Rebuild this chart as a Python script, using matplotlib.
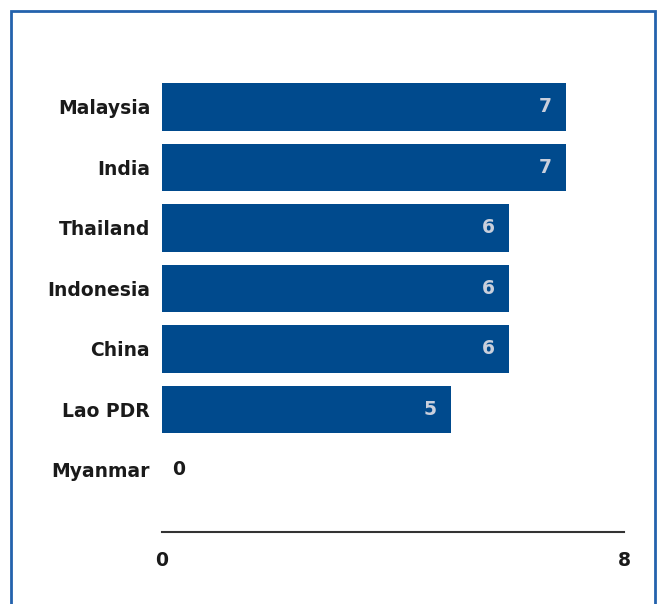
import matplotlib
matplotlib.use("Agg")
import matplotlib.pyplot as plt
from matplotlib.patches import Rectangle

countries = ["Malaysia", "India", "Thailand", "Indonesia", "China", "Lao PDR", "Myanmar"]
values = [7, 7, 6, 6, 6, 5, 0]
x_ticks = [0, 8]

BAR = "#004a8d"
FRAME = "#2462ad"

fig = plt.figure(figsize=(6.6, 6.04), dpi=100)
fig.patches.append(Rectangle((11 / 660, -0.1), 644 / 660, 1.1 - 11 / 604,
                             transform=fig.transFigure, fill=False,
                             edgecolor=FRAME, linewidth=2))

ax = fig.add_axes([162 / 660, 1 - 532 / 604, 462 / 660, 485.5 / 604])
ypos = list(range(len(countries)))
ax.barh(ypos, values, height=0.79, color=BAR)
ax.set_xlim(0, 8)
ax.set_ylim(7.025, -1)

for y, v in zip(ypos, values):
    if v > 0:
        ax.annotate(str(v), (v, y), xytext=(-14, 0), textcoords="offset pixels",
                    ha="right", va="center", fontsize=13.5, fontweight="bold",
                    color="#c9cfdc")
    else:
        ax.annotate(str(v), (0, y), xytext=(10, 0), textcoords="offset pixels",
                    ha="left", va="center", fontsize=13.5, fontweight="bold",
                    color="#1a1a1a")

ax.set_yticks(ypos)
ax.set_yticklabels(countries, fontsize=13.5, fontweight="bold", color="#1a1a1a")
ax.set_xticks(x_ticks)
ax.set_xticklabels([str(t) for t in x_ticks], fontsize=13.5, fontweight="bold",
                   color="#1a1a1a")
ax.tick_params(axis="y", length=0, pad=8.5)
ax.tick_params(axis="x", length=0, pad=14)
for s in ["top", "right", "left"]:
    ax.spines[s].set_visible(False)
ax.spines["bottom"].set_color("#333333")
ax.spines["bottom"].set_linewidth(1.5)

fig.savefig("out.png", dpi=100)
